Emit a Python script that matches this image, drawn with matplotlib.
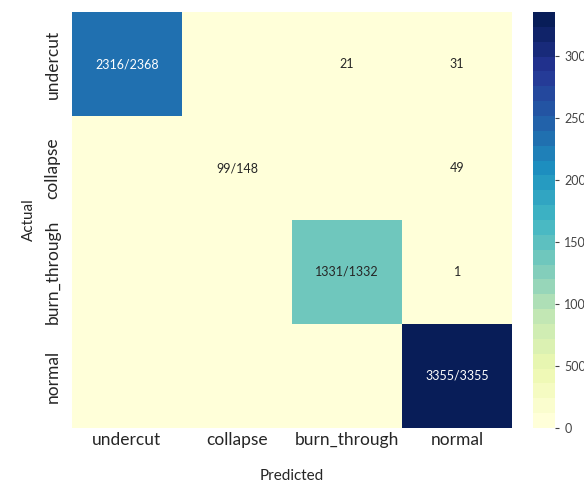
import numpy as np
import matplotlib
matplotlib.use("Agg")
import matplotlib.pyplot as plt
from matplotlib.colors import ListedColormap, BoundaryNorm

plt.rcParams['font.family'] = ['Lato', 'DejaVu Sans']

classes = ["undercut", "collapse", "burn_through", "normal"]
counts = np.array([
    [2316, 0, 21, 31],
    [0, 99, 0, 49],
    [0, 0, 1331, 1],
    [0, 0, 0, 3355],
])
row_totals = counts.sum(axis=1)

vmax = counts.max()
n_levels = 28
base = plt.get_cmap("YlGnBu")
cmap = ListedColormap(base(np.linspace(0, 1, n_levels)))
norm = BoundaryNorm(np.linspace(0, vmax, n_levels + 1), n_levels)

fig = plt.figure(figsize=(5.84, 4.83), dpi=100)
ax = fig.add_axes([0.123, 0.114, 0.754, 0.861])
cax = fig.add_axes([0.913, 0.114, 0.038, 0.861])

mesh = ax.pcolormesh(counts, cmap=cmap, norm=norm)
ax.set_xlim(0, 4)
ax.set_ylim(4, 0)

for i in range(4):
    for j in range(4):
        v = counts[i, j]
        if v == 0:
            continue
        txt = f"{v}/{row_totals[i]}" if i == j else f"{v}"
        color = "white" if v > 2000 else "#262626"
        ax.text(j + 0.5, i + 0.5, txt, ha="center", va="center",
                fontsize=9, color=color)

ax.set_xticks(np.arange(4) + 0.5)
ax.set_xticklabels(classes, fontsize=12.5, color="#262626")
ax.set_yticks(np.arange(4) + 0.5)
ax.set_yticklabels(classes, fontsize=12.5, rotation=90, va="center", color="#262626")
ax.tick_params(axis="x", length=0, pad=3)
ax.tick_params(axis="y", length=0, pad=8)
for s in ax.spines.values():
    s.set_visible(False)
ax.set_xlabel("Predicted", fontsize=11, color="#262626", labelpad=15)
ax.set_ylabel("Actual", fontsize=11, color="#262626", labelpad=6)

cb = fig.colorbar(mesh, cax=cax, ticks=[0, 500, 1000, 1500, 2000, 2500, 3000])
cb.outline.set_visible(False)
cb.ax.minorticks_off()
cb.ax.tick_params(labelsize=9, colors="#444444", length=3)

fig.savefig("out.png", dpi=100)
